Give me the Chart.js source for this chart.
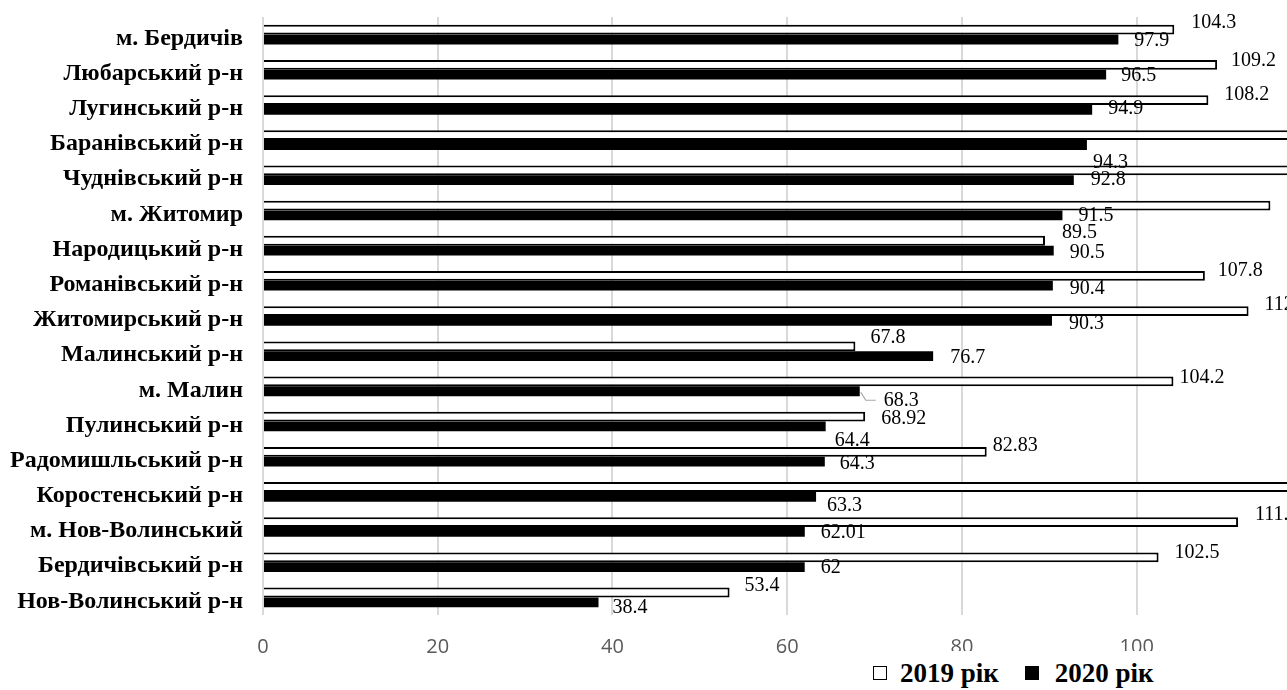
<!DOCTYPE html>
<html>
<head>
<meta charset="utf-8">
<script src="https://cdn.jsdelivr.net/npm/chart.js@4/dist/chart.umd.min.js"></script>
<style>
  html, body { margin: 0; padding: 0; background: #fff; overflow: hidden; }
  #wrap { position: relative; width: 1287px; height: 690px; }
  #legend {
    position: absolute; left: 866px; top: 651px; height: 39px; width: 300px; box-sizing: border-box;
    padding-top: 5px;
    background: #fff; display: flex; align-items: center;
    font: bold 27px "Liberation Serif", "Times New Roman", serif; color: #000;
  }
  #legend .sw { display: inline-block; width: 14px; height: 14px; box-sizing: border-box; margin: 0 13px 0 7px; }
</style>
</head>
<body>
<div id="wrap">
  <canvas id="chart" width="1287" height="690"></canvas>
  <div id="legend"></div>
</div>
<script>
// Категорії (зверху вниз)
const categories = [
  'м. Бердичів', 'Любарський р-н', 'Лугинський р-н', 'Баранівський р-н',
  'Чуднівський р-н', 'м. Житомир', 'Народицький р-н', 'Романівський р-н',
  'Житомирський р-н', 'Малинський р-н', 'м. Малин', 'Пулинський р-н',
  'Радомишльський р-н', 'Коростенський р-н', 'м. Нов-Волинський',
  'Бердичівський р-н', 'Нов-Волинський р-н'
];
const seriesNames = ['2019 рік', '2020 рік'];
const values2019 = [104.3, 109.2, 108.2, 120.5, 118.6, 115.3, 89.5, 107.8, 112.8, 67.8, 104.2, 68.92, 82.83, 119.4, 111.6, 102.5, 53.4];
const values2020 = [97.9, 96.5, 94.9, 94.3, 92.8, 91.5, 90.5, 90.4, 90.3, 76.7, 68.3, 64.4, 64.3, 63.3, 62.01, 62, 38.4];
const xTicks = [0, 20, 40, 60, 80, 100];
const xMax = 117.2;

// зсуви підписів [dx від кінця стовпця, dy від центру стовпця]
const labelOffsets = [
  [[17,-7],[14,-4],[16,-5],[15,-5],[15,-5],[15,-5],[17,-8],[13,-5],[16,-6],[15,-9],[6,-4],[16,2],[6,-6],[15,-5],[17,-7],[16,-5],[15,-7]],
  [[16,1],[15,1],[16,-1],[6,18],[17,0],[16,0],[16,2],[17,3],[17,3],[17,2],[24,9],[9,14],[15,2],[11,9],[16,1],[16,1],[14,5]]
];
const leaderLines = [{ ds: 1, idx: 10 }];

const dataLabels = {
  id: 'dataLabels',
  afterDatasetsDraw(chart) {
    const ctx = chart.ctx;
    ctx.save();
    ctx.font = '20px "Liberation Serif", "Times New Roman", serif';
    ctx.fillStyle = '#000';
    ctx.textAlign = 'left';
    ctx.textBaseline = 'middle';
    chart.data.datasets.forEach((ds, i) => {
      chart.getDatasetMeta(i).data.forEach((bar, idx) => {
        const [dx, dy] = labelOffsets[i][idx];
        ctx.fillText(String(ds.data[idx]), bar.x + dx, bar.y + dy);
      });
    });
    ctx.strokeStyle = '#a6a6a6';
    ctx.lineWidth = 1.2;
    for (const l of leaderLines) {
      const bar = chart.getDatasetMeta(l.ds).data[l.idx];
      ctx.beginPath();
      ctx.moveTo(bar.x + 1, bar.y + 1);
      ctx.lineTo(bar.x + 6, bar.y + 9);
      ctx.lineTo(bar.x + 16, bar.y + 9);
      ctx.stroke();
    }
    ctx.restore();
  }
};

new Chart(document.getElementById('chart'), {
  type: 'bar',
  data: {
    labels: categories,
    datasets: [
      { label: seriesNames[0], data: values2019, backgroundColor: '#ffffff', borderColor: '#000', borderWidth: 2 },
      { label: seriesNames[1], data: values2020, backgroundColor: '#000000', borderColor: '#000', borderWidth: 0 },
    ],
  },
  plugins: [dataLabels],
  options: {
    indexAxis: 'y',
    responsive: false,
    animation: false,
    devicePixelRatio: 1,
    categoryPercentage: 0.557,
    barPercentage: 1.0,
    layout: { padding: { top: 17, right: 0, bottom: 0, left: 0 } },
    plugins: { legend: { display: false }, tooltip: { enabled: false } },
    scales: {
      x: {
        min: 0, max: xMax,
        afterBuildTicks: s => { s.ticks = xTicks.map(v => ({ value: v })); },
        afterFit: s => { s.height = 75; s.paddingLeft = 0; s.paddingRight = 0; },
        grid: { color: '#d9d9d9', lineWidth: 2, drawTicks: false },
        border: { display: false },
        ticks: { padding: 20, color: '#595959', font: { family: '"Open Sans", "Noto Sans", sans-serif', size: 20 } },
      },
      y: {
        afterFit: s => { s.width = 263; s.paddingTop = 0; s.paddingBottom = 0; },
        grid: { display: false, drawTicks: false },
        border: { display: false },
        ticks: { padding: 20, labelOffset: 4, color: '#000', font: { family: '"Liberation Serif", "Times New Roman", serif', size: 24, weight: 'bold' } },
      },
    },
  },
});

// легенда
const legend = document.getElementById('legend');
seriesNames.forEach((name, i) => {
  const sw = document.createElement('span');
  sw.className = 'sw';
  sw.style.border = '1.5px solid #000';
  sw.style.background = i === 0 ? '#fff' : '#000';
  if (i > 0) sw.style.marginLeft = '26px';
  if (i > 0) sw.style.marginRight = '16px';
  legend.appendChild(sw);
  legend.appendChild(document.createTextNode(name));
});
</script>
</body>
</html>
